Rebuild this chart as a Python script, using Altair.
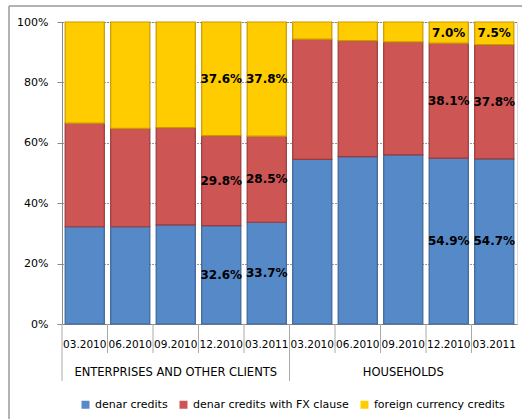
import altair as alt
import pandas as pd

groups = ["ENTERPRISES AND OTHER CLIENTS"] * 5 + ["HOUSEHOLDS"] * 5
dates = ["03.2010", "06.2010", "09.2010", "12.2010", "03.2011"] * 2
series = ["denar credits", "denar credits with FX clause", "foreign currency credits"]
colors = ["#5689c8", "#cd5655", "#ffcc00"]
edge_colors = ["#3c6598", "#9a3a3a", "#c89a00"]

denar = [32.2, 32.2, 32.8, 32.6, 33.7, 54.5, 55.4, 56.0, 54.9, 54.7]
fx_clause = [34.3, 32.6, 32.2, 29.8, 28.5, 39.8, 38.4, 37.4, 38.1, 37.8]
foreign = [33.5, 35.2, 35.0, 37.6, 37.8, 5.7, 6.2, 6.6, 7.0, 7.5]
labelled = [False, False, False, True, True, False, False, False, True, True]

keys = [f"{g[0]}{i}|{d}" for i, (g, d) in enumerate(zip(groups, dates))]

rows = []
for i, k in enumerate(keys):
    for s_i, (s, vals) in enumerate(zip(series, [denar, fx_clause, foreign])):
        v = vals[i]
        rows.append({
            "key": k, "series": s, "sidx": s_i, "value": v,
            "lbl": f"{v:.1f}%" if labelled[i] else "",
        })
df = pd.DataFrame(rows)

sep = pd.DataFrame({"key": keys, "long": [i % 5 == 0 for i in range(len(keys))]})
grp = pd.DataFrame({"key": [keys[2], keys[7]], "name": [groups[0], groups[5]]})

FONT = "DejaVu Sans"

xenc = alt.X("key:N", sort=keys, scale=alt.Scale(paddingInner=0, paddingOuter=0),
             axis=alt.Axis(title=None, labelAngle=0, ticks=False, domainColor="#888888",
                           labelExpr="split(datum.label, '|')[1]", labelPadding=15,
                           labelFontSize=10.5, labelColor="black", labelFont=FONT))

bars = alt.Chart(df).mark_bar(width=alt.RelativeBandSize(0.86), strokeWidth=1.2).encode(
    x=xenc,
    y=alt.Y("value:Q", stack="zero", scale=alt.Scale(domain=[0, 100], nice=False),
            axis=alt.Axis(title=None, values=[0, 20, 40, 60, 80, 100],
                          labelExpr="datum.value + '%'", grid=True, gridDash=[1, 2],
                          gridColor="black", gridOpacity=0.8, domainColor="#888888",
                          tickColor="#888888", tickSize=5, labelPadding=9,
                          labelFontSize=11, labelColor="black", labelFont=FONT)),
    color=alt.Color("series:N", scale=alt.Scale(domain=series, range=colors),
                    legend=alt.Legend(title=None, orient="none", direction="horizontal",
                                      legendX=18, legendY=377, symbolType="square",
                                      symbolSize=64, symbolStrokeWidth=0, labelFontSize=11,
                                      labelFont=FONT, labelColor="black", columnPadding=10,
                                      symbolOffset=0, labelOffset=4)),
    stroke=alt.Stroke("series:N", scale=alt.Scale(domain=series, range=edge_colors), legend=None),
    order=alt.Order("sidx:Q"),
)

texts = alt.Chart(df).transform_window(
    cum="sum(value)", groupby=["key"], sort=[alt.SortField("sidx")], frame=[None, 0]
).transform_calculate(
    mid="datum.cum - datum.value / 2"
).mark_text(fontWeight="bold", fontSize=12, font=FONT, color="black", baseline="middle").encode(
    x=alt.X("key:N", sort=keys),
    y=alt.Y("mid:Q"),
    text="lbl:N",
)

short_sep = alt.Chart(sep).transform_filter("!datum.long").mark_rule(color="#aaaaaa").encode(
    x=alt.X("key:N", sort=keys, bandPosition=0),
    y=alt.value(302), y2=alt.value(331),
)
long_sep = alt.Chart(sep).transform_filter("datum.long").mark_rule(color="#aaaaaa").encode(
    x=alt.X("key:N", sort=keys, bandPosition=0),
    y=alt.value(302), y2=alt.value(359),
)
grp_text = alt.Chart(grp).mark_text(fontSize=11.5, font=FONT, color="black", baseline="middle").encode(
    x=alt.X("key:N", sort=keys),
    y=alt.value(351),
    text="name:N",
)

frame_top = alt.Chart(grp).mark_rule(color="#999999").encode(
    x=alt.value(-53), x2=alt.value(470), y=alt.value(-16))
frame_left = alt.Chart(grp).mark_rule(color="#999999").encode(
    x=alt.value(-53), y=alt.value(-16), y2=alt.value(420))

chart = alt.layer(bars, texts, short_sep, long_sep, grp_text, frame_top, frame_left).properties(
    width=455, height=302,
    autosize=alt.AutoSizeParams(type="none"),
    padding={"left": 62, "top": 22, "right": 5, "bottom": 95},
).configure_view(stroke="black", strokeDash=[1, 2], strokeWidth=1).configure(background="white")

chart.save("out.html", embed_options={"renderer": "svg", "actions": False})
